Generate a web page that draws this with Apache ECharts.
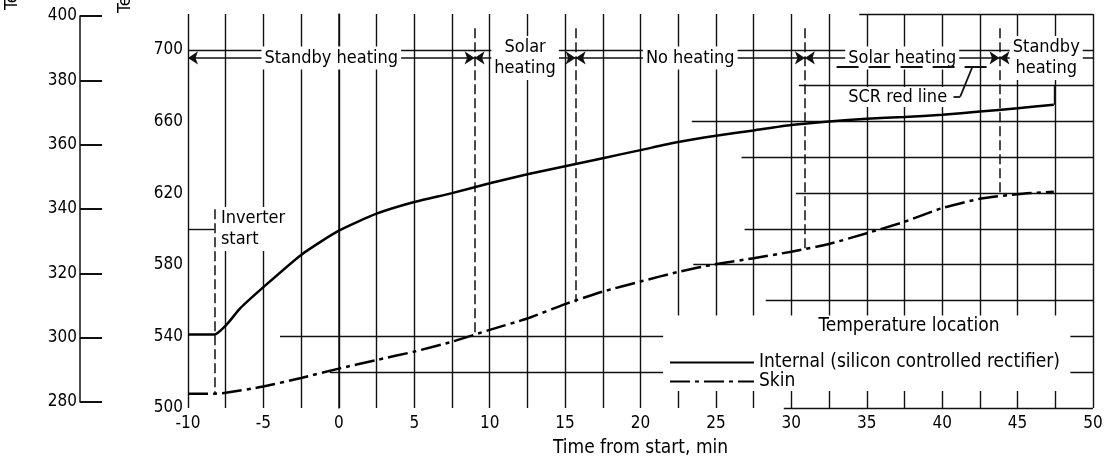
<!DOCTYPE html>
<html>
<head>
<meta charset="utf-8">
<script src="https://cdn.jsdelivr.net/npm/echarts@6/dist/echarts.min.js"></script>
<style>
html, body { margin: 0; padding: 0; background: #fff; }
#chart { width: 1109px; height: 457px; }
</style>
</head>
<body>
<div id="chart"></div>
<script>
// fonts
var font = '"Liberation Sans Narrow", "DejaVu Sans Condensed", "Arial Narrow", sans-serif';

// internal (SCR) temperature, [min, °R]
var internal_data = [
    [-10, 541], [-8.25, 541], [-7.5, 546], [-6.5, 556], [-5, 567.5], [-2.5, 585.5],
    [0, 599], [2.5, 608.5], [5, 615], [7.5, 620], [10, 625.5], [12.5, 630.5],
    [15, 635], [17.5, 639.5], [20, 644], [22.5, 648.5], [25, 652], [27.5, 655],
    [30, 658], [32.5, 660], [35, 661.5], [37.5, 662.5], [40, 663.7], [42.5, 665.5],
    [45, 667.4], [47.4, 669.3]
];

// skin temperature, [min, °R]
var skin_data = [
    [-10, 508], [-8.25, 508], [-7.5, 508.5], [-5, 512], [-2.5, 516.8], [0, 522],
    [2.5, 526.8], [5, 531.5], [7.5, 537], [10, 543.6], [12.5, 550], [15, 558],
    [17.5, 565], [20, 570.6], [22.5, 576], [25, 580.4], [27.5, 583.6], [30, 587.3],
    [32.5, 591.6], [35, 597.6], [37.5, 604], [40, 611.6], [42.5, 616.8], [45, 619.4],
    [47.4, 620.8]
];

// partial horizontal rulings, [°R, from min, to min]
var rulings = [
    [720, 34.5, 50], [700, -10, 50], [680, 30.5, 50], [660, 23.4, 50], [640, 26.7, 50],
    [620, 30.3, 50], [600, 26.9, 50], [580, 23.5, 50], [560, 28.3, 50],
    [540, -3.9, 50], [520, -0.6, 50], [500, 29.5, 50], [600, -10, -8.25]
];

// dashed event lines, [min, top °R, bottom °R]
var events = [
    [-8.25, 611, 508], [9, 712, 541], [15.7, 712, 559], [30.9, 712, 589], [43.8, 712, 618.5]
];

// curve end marker, [min, top °R, bottom °R]
var curve_end = [47.4, 680, 669.3];

// heating periods, [label, from min, to min]
var periods = [
    ['Standby heating', -10, 9],
    ['Solar\nheating', 9, 15.7],
    ['No heating', 15.7, 30.9],
    ['Solar heating', 30.9, 43.8],
    ['Standby\nheating', 43.8, 50]
];
var period_level = 695.5;

// SCR red line
var red_line = [690.8, 33, 43];
var red_label = ['SCR red line', 37.05, 673.7];
var red_leader = [[40.75, 673.9], [41.2, 673.9], [42, 690.4]];

// inverter start
var inverter_label = ['Inverter\nstart', -8.25, 600];

// legend box, [from min, to min, bottom °R, top °R]
var legend_box = [21.5, 48.5, 509.5, 551.7];

// axis ticks
var x_ticks = { min: -10, max: 50, step: 2.5 };
var r_ticks = { min: 500, max: 720, step: 40 };
var k_ticks = { min: 280, max: 400, step: 20 };

(function() {

    var ink = '#111';

    var text_style = function(size) {
        return { color: '#000', fontFamily: font, fontSize: size };
    };

    var seg = function(a, b) {
        return [{ coord: a }, { coord: b }];
    };

    var option = {

        animation: false,
        backgroundColor: '#fff',

        grid: [
            { left: 188, right: 16, top: 14, bottom: 49, outerBoundsMode: 'none' },
            { left: 80, width: 30, top: 16, bottom: 55, outerBoundsMode: 'none' }
        ],

        xAxis: [{
            gridIndex: 0,
            type: 'value',
            min: x_ticks.min,
            max: x_ticks.max,
            interval: x_ticks.step,
            axisLine: { show: false },
            axisTick: { show: false },
            splitLine: { show: true, lineStyle: { color: ink, width: 1.4 } },
            axisLabel: Object.assign(text_style(17), {
                margin: 7,
                formatter: function(v) { return v % 5 === 0 ? String(v) : ''; }
            }),
            name: 'Time from start, min',
            nameLocation: 'middle',
            nameGap: 31,
            nameTextStyle: text_style(19)
        }, {
            gridIndex: 1,
            type: 'value',
            show: false
        }],

        yAxis: [{
            gridIndex: 0,
            type: 'value',
            min: r_ticks.min,
            max: r_ticks.max,
            interval: r_ticks.step,
            axisLine: { show: true, lineStyle: { color: ink, width: 1.5 } },
            axisTick: { show: false },
            splitLine: { show: false },
            axisLabel: Object.assign(text_style(17), { margin: 5, showMaxLabel: false })
        }, {
            gridIndex: 1,
            type: 'value',
            position: 'left',
            min: k_ticks.min,
            max: k_ticks.max,
            interval: k_ticks.step,
            axisLine: { show: true, lineStyle: { color: ink, width: 1.5 } },
            axisTick: { show: true, inside: true, length: 22, lineStyle: { color: ink, width: 2 } },
            splitLine: { show: false },
            axisLabel: Object.assign(text_style(17), { margin: 3 })
        }],

        legend: {
            data: ['Internal (silicon controlled rectifier)', 'Skin'],
            orient: 'vertical',
            left: 669,
            top: 353,
            itemWidth: 84,
            itemHeight: 14,
            itemGap: 0,
            padding: 0,
            selectedMode: false,
            itemStyle: { opacity: 0 },
            lineStyle: { width: 2 },
            textStyle: text_style(19)
        },

        graphic: [
            { type: 'text', x: 12, y: 10, rotation: Math.PI / 2, z: 100,
              style: { text: 'Temperature, K', font: '18px ' + font, fill: '#000', textAlign: 'left', textVerticalAlign: 'middle' } },
            { type: 'text', x: 125, y: 13, rotation: Math.PI / 2, z: 100,
              style: { text: 'Temperature, °R', font: '18px ' + font, fill: '#000', textAlign: 'left', textVerticalAlign: 'middle' } },
            { type: 'text', x: 909, y: 326, z: 100,
              style: { text: 'Temperature location', font: '19px ' + font, fill: '#000', textAlign: 'center', textVerticalAlign: 'middle' } }
        ],

        series: [

            // rulings
            {
                name: 'rulings', type: 'line', data: [], z: 1, silent: true,
                markLine: {
                    silent: true, z: 1, symbol: 'none', label: { show: false },
                    lineStyle: { color: ink, width: 1.4, type: 'solid' },
                    data: rulings.map(function(r) { return seg([r[1], r[0]], [r[2], r[0]]); })
                        .concat([seg([curve_end[0], curve_end[1]], [curve_end[0], curve_end[2]])])
                }
            },

            // curves
            {
                name: 'Internal (silicon controlled rectifier)', type: 'line', z: 3,
                data: internal_data, symbol: 'none', smooth: 0.2,
                lineStyle: { color: '#000', width: 2.5 },
                itemStyle: { color: '#000' }
            },
            {
                name: 'Skin', type: 'line', z: 3,
                data: skin_data, symbol: 'none', smooth: 0.2,
                lineStyle: { color: '#000', width: 2.5, type: [20, 5, 4, 5] },
                itemStyle: { color: '#000' },

                // legend box
                markArea: {
                    silent: true, z: 2,
                    itemStyle: { color: '#fff', opacity: 1 },
                    data: [seg([legend_box[0], legend_box[3]], [legend_box[1], legend_box[2]])]
                }
            },

            // events
            {
                name: 'events', type: 'line', data: [], z: 3, silent: true,
                markLine: {
                    silent: true, z: 3, symbol: 'none', label: { show: false },
                    lineStyle: { color: ink, width: 1.5, type: [10, 4] },
                    data: events.map(function(e) { return seg([e[0], e[1]], [e[0], e[2]]); })
                }
            },

            // periods
            {
                name: 'periods', type: 'line', data: [], z: 4, silent: true,
                markLine: {
                    silent: true, z: 4, symbolSize: 10,
                    lineStyle: { color: ink, width: 1.5, type: 'solid' },
                    label: Object.assign(text_style(18), {
                        show: true, position: 'middle', distance: 0, formatter: '{b}',
                        verticalAlign: 'middle', align: 'center', lineHeight: 21,
                        backgroundColor: '#fff', padding: [1, 3]
                    }),
                    data: periods.map(function(p, i) {
                        return [
                            { coord: [p[1], period_level], name: p[0], symbol: 'arrow' },
                            { coord: [p[2], period_level], symbol: i === periods.length - 1 ? 'none' : 'arrow' }
                        ];
                    })
                },
                markPoint: {
                    silent: true, z: 4,
                    symbol: 'rect', symbolSize: 1,
                    itemStyle: { color: 'rgba(0,0,0,0)' },
                    data: [{
                        coord: [inverter_label[1], inverter_label[2]], name: inverter_label[0],
                        label: Object.assign(text_style(18), {
                            show: true, position: 'right', distance: 4, formatter: '{b}',
                            align: 'left', lineHeight: 21, backgroundColor: '#fff', padding: [1, 2]
                        })
                    }, {
                        coord: [red_label[1], red_label[2]], name: red_label[0],
                        label: Object.assign(text_style(18), {
                            show: true, position: 'inside', formatter: '{b}',
                            backgroundColor: '#fff', padding: [1, 3]
                        })
                    }]
                }
            },

            // SCR red line
            {
                name: 'red', type: 'line', data: [], z: 5, silent: true,
                markLine: {
                    silent: true, z: 6, symbol: 'none', label: { show: false },
                    lineStyle: { color: ink, width: 1.8, type: 'solid' },
                    data: [
                        [{ coord: [red_line[1], red_line[0]], lineStyle: { type: [22, 10], width: 2 } },
                         { coord: [red_line[2], red_line[0]] }],
                        seg(red_leader[0], red_leader[1]),
                        seg(red_leader[1], red_leader[2])
                    ]
                }
            }
        ]
    };

    var chart = echarts.init(document.getElementById('chart'));
    chart.setOption(option);

}());
</script>
</body>
</html>
